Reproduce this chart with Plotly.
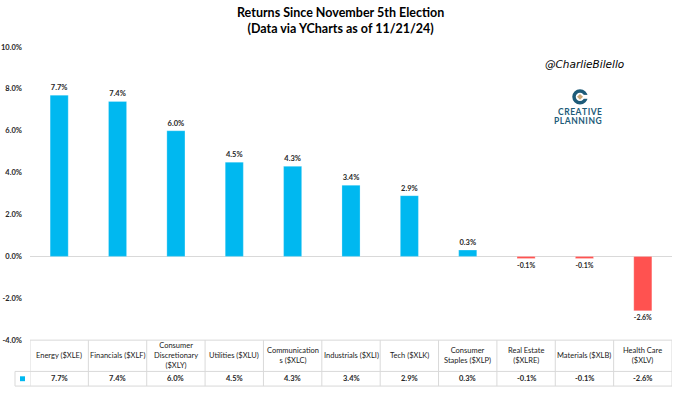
import plotly.graph_objects as go

categories = ["Energy ($XLE)", "Financials ($XLF)", "Consumer Discretionary ($XLY)",
              "Utilities ($XLU)", "Communications ($XLC)", "Industrials ($XLI)",
              "Tech ($XLK)", "Consumer Staples ($XLP)", "Real Estate ($XLRE)",
              "Materials ($XLB)", "Health Care ($XLV)"]
header_labels = ["Energy ($XLE)", "Financials ($XLF)", "Consumer<br>Discretionary<br>($XLY)",
                 "Utilities ($XLU)", "Communication<br>s ($XLC)", "Industrials ($XLI)",
                 "Tech ($XLK)", "Consumer<br>Staples ($XLP)", "Real Estate<br>($XLRE)",
                 "Materials ($XLB)", "Health Care<br>($XLV)"]
returns = [7.7, 7.4, 6.0, 4.5, 4.3, 3.4, 2.9, 0.3, -0.1, -0.1, -2.6]
y_ticks = [-4, -2, 0, 2, 4, 6, 8, 10]

W, H = 680, 394
BLUE = "#00B8F0"
RED = "#FF5250"
FONT = "Lato"
GRID = "#D9D9D9"
TXT = "#262626"

def px(x):
    return x / W

def py(y):
    return 1 - y / H

colors = [BLUE if v >= 0 else RED for v in returns]

fig = go.Figure()
fig.add_trace(go.Bar(
    x=categories, y=returns, width=0.31,
    marker=dict(color=colors, line=dict(color="rgba(255,255,255,0.5)", width=0.5)),
    text=[f"{v:.1f}%" for v in returns], textposition="outside",
    textfont=dict(family=FONT, size=7.5, color=TXT, weight="bold"),
    cliponaxis=False, showlegend=False, hoverinfo="skip",
))

fig.update_layout(
    width=W, height=H,
    margin=dict(l=0, r=0, t=0, b=0),
    paper_bgcolor="white", plot_bgcolor="white",
    font=dict(family=FONT, color=TXT),
    xaxis=dict(domain=[px(30), px(672)], range=[-0.5, len(categories) - 0.5],
               showticklabels=False, showgrid=False,
               zeroline=False, showline=False, ticks=""),
    yaxis=dict(domain=[py(344), py(44)], range=[-4, 10], tickvals=y_ticks,
               ticktext=[f"{v:.1f}%" for v in y_ticks],
               tickfont=dict(family=FONT, size=7.5, color=TXT, weight="bold"),
               showgrid=False, zeroline=True, zerolinecolor=GRID, zerolinewidth=1,
               showline=False, ticks="", ticklabelstandoff=7),
)

# ---- data table (drawn on the category axis) ----
n = len(categories)
TOP, MID, BOT = 344, 376, 391
line = dict(color=GRID, width=1)
fig.add_shape(type="line", xref="x", yref="paper", x0=-0.5, x1=n - 0.5,
              y0=py(TOP), y1=py(TOP), line=line)
for yy in (MID, BOT):
    fig.add_shape(type="line", xref="paper", yref="paper", x0=px(15), x1=px(672),
                  y0=py(yy), y1=py(yy), line=line)
fig.add_shape(type="line", xref="paper", yref="paper", x0=px(15), x1=px(15),
              y0=py(MID), y1=py(BOT), line=line)
for i in range(n + 1):
    fig.add_shape(type="line", xref="x", yref="paper", x0=i - 0.5, x1=i - 0.5,
                  y0=py(TOP), y1=py(BOT), line=line)
for cat, lab, v in zip(categories, header_labels, returns):
    fig.add_annotation(text=lab, x=cat, y=py((TOP + MID) / 2), xref="x", yref="paper",
                       showarrow=False, align="center", yanchor="middle", xanchor="center",
                       font=dict(family=FONT, size=7.5, color="#1a1a1a"))
    fig.add_annotation(text=f"{v:.1f}%", x=cat, y=py((MID + BOT) / 2), xref="x", yref="paper",
                       showarrow=False, yanchor="middle", xanchor="center",
                       font=dict(family=FONT, size=7.5, color=TXT, weight="bold"))
# legend key
fig.add_shape(type="rect", xref="paper", yref="paper", x0=px(20), x1=px(25),
              y0=py(386), y1=py(381), line=dict(width=0), fillcolor=BLUE)

fig.add_annotation(
    text="Returns Since November 5th Election<br>(Data via YCharts as of 11/21/24)",
    x=0.5, y=py(17), xref="paper", yref="paper", showarrow=False,
    yanchor="middle", xanchor="center",
    font=dict(family=FONT, size=12.5, color="#000000", weight="bold"),
)
fig.add_annotation(
    text="<i>@CharlieBilello</i>", x=px(584), y=py(61), xref="paper", yref="paper",
    showarrow=False, yanchor="middle", xanchor="center",
    font=dict(family="DejaVu Sans", size=10.5, color="#000000"),
)
TEAL = "#1D5B79"
fig.add_annotation(text="\u200a".join("CREATIVE"), x=px(580), y=py(111), xref="paper", yref="paper",
                   showarrow=False, yanchor="middle", xanchor="center",
                   font=dict(family=FONT, size=8.5, color=TEAL, weight="bold"))
fig.add_annotation(text="\u200a".join("PLANNING"), x=px(578), y=py(119.5), xref="paper", yref="paper",
                   showarrow=False, yanchor="middle", xanchor="center",
                   font=dict(family=FONT, size=8.5, color=TEAL, weight="bold"))
# logo icon
fig.add_shape(type="circle", xref="paper", yref="paper",
              x0=px(574), x1=px(586), y0=py(101), y1=py(89),
              line=dict(color=TEAL, width=3.5))
fig.add_shape(type="rect", xref="paper", yref="paper",
              x0=px(581), x1=px(590), y0=py(97), y1=py(93),
              line=dict(width=0), fillcolor="white")
fig.add_shape(type="path", xref="paper", yref="paper",
              path=f"M {px(580)},{py(92)} L {px(583)},{py(95)} L {px(580)},{py(98)} L {px(577)},{py(95)} Z",
              line=dict(width=0), fillcolor="#C9A877")

fig.write_html("out.html", config=dict(displayModeBar=False, staticPlot=True),
               post_script="document.body.style.margin='0';document.body.style.padding='0';"
                           "document.body.style.overflow='hidden';")
